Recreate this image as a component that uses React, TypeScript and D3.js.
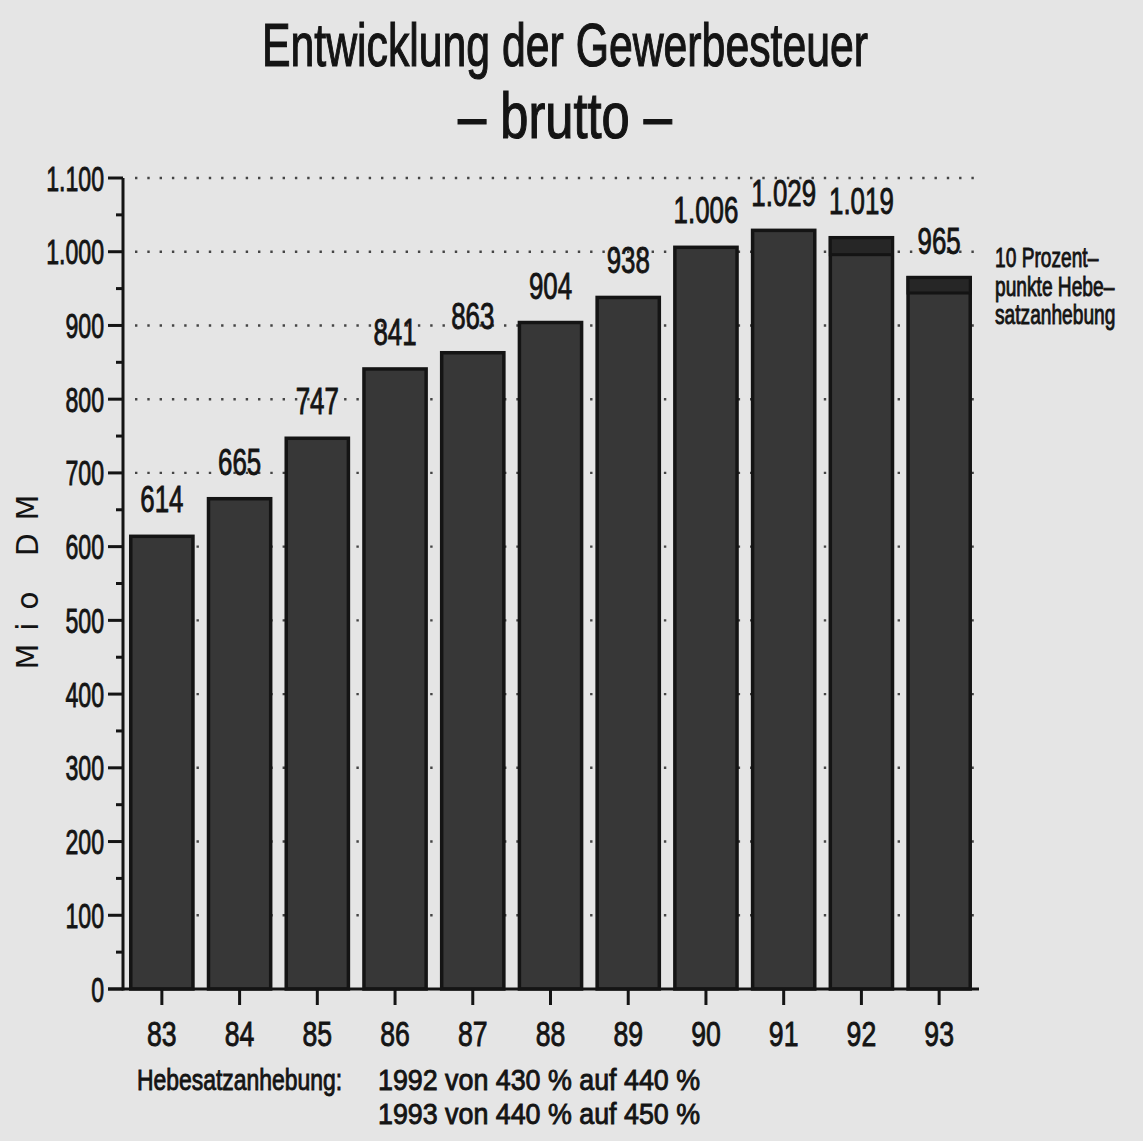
import React from "react";
import * as d3 from "d3";

const years = ["83", "84", "85", "86", "87", "88", "89", "90", "91", "92", "93"];
const totals = [614, 665, 747, 841, 863, 904, 938, 1006, 1029, 1019, 965];
// portion attributable to the 10-point Hebesatz increase (1992, 1993)
const increase = [0, 0, 0, 0, 0, 0, 0, 0, 0, 23, 21];
const yTicks = [0, 100, 200, 300, 400, 500, 600, 700, 800, 900, 1000, 1100];
const yMinor = [50, 150, 250, 350, 450, 550, 650, 750, 850, 950, 1050];
const titleLines = ["Entwicklung der Gewerbesteuer", "– brutto –"];
const noteLines = ["10 Prozent–", "punkte Hebe–", "satzanhebung"];
const footLabel = "Hebesatzanhebung:";
const footLines = ["1992 von 430 % auf 440 %", "1993 von 440 % auf 450 %"];
const yLabel = "Mio DM";

const W = 1143;
const H = 1141;
const FONT = "'Liberation Sans', Arial, sans-serif";
const INK = "#141414";

const de = d3.formatLocale({ decimal: ",", thousands: ".", grouping: [3], currency: ["", " DM"] });
const fmt = de.format(",d");

function CText(props: {
  x: number; y: number; text: string; size: number; sx?: number;
  anchor?: "start" | "middle" | "end"; len?: number; sw?: number;
}) {
  const { x, y, text, size, sx = 1, anchor = "middle", len, sw = 0.9 } = props;
  return (
    <text
      transform={`translate(${x},${y}) scale(${sx},1)`}
      textAnchor={anchor}
      fontFamily={FONT}
      fontSize={size}
      fill={INK}
      stroke={INK}
      strokeWidth={sw}
      textLength={len}
      lengthAdjust={len ? "spacingAndGlyphs" : undefined}
    >
      {text}
    </text>
  );
}

export default function App() {
  const x = d3.scaleBand<string>().domain(years).range([123, 978]).paddingInner(0.2).paddingOuter(0.1);
  const y = d3.scaleLinear().domain([0, 1100]).range([989, 178]);
  const x0 = 123;
  const y0 = y(0);

  return (
    <svg
      width={W}
      height={H}
      style={{ position: "absolute", left: 0, top: 0, display: "block" }}
    >
      <rect x={0} y={0} width={W} height={H} fill="#e5e5e5" />

      {/* title */}
      <CText x={565} y={66} text={titleLines[0]} size={61} len={606} sw={1.2} />
      <CText x={565} y={138} text={titleLines[1]} size={64} len={214} sw={1.2} />

      {/* dotted grid */}
      {yTicks.filter((t) => t > 0).map((t) => (
        <line
          key={"g" + t}
          x1={x0 + 12}
          x2={982}
          y1={y(t)}
          y2={y(t)}
          stroke="#444"
          strokeWidth={2.4}
          strokeDasharray="2.4 9.9"
        />
      ))}

      {/* bars */}
      {years.map((yr, i) => {
        const bx = x(yr)!;
        const bw = x.bandwidth();
        const top = y(totals[i]);
        return (
          <g key={yr}>
            <rect x={bx} y={top} width={bw} height={y0 - top} fill="#373737" stroke={INK} strokeWidth={3.5} />
            {increase[i] > 0 && (
              <rect
                x={bx}
                y={top}
                width={bw}
                height={y(totals[i] - increase[i]) - top}
                fill="#262626"
                stroke={INK}
                strokeWidth={3}
              />
            )}
            <CText x={bx + bw / 2} y={top - 24} text={fmt(totals[i])} size={37} sx={0.7} />
          </g>
        );
      })}

      {/* y axis */}
      <line x1={x0} x2={x0} y1={y(1100)} y2={y0 + 1.5} stroke={INK} strokeWidth={3} />
      {yTicks.map((t) => (
        <g key={"t" + t}>
          <line x1={x0 - 15} x2={x0} y1={y(t)} y2={y(t)} stroke={INK} strokeWidth={3} />
          <CText x={104} y={y(t) + 12.5} text={fmt(t)} size={35} sx={0.66} anchor="end" />
        </g>
      ))}
      {yMinor.map((t) => (
        <line key={"m" + t} x1={x0 - 7} x2={x0} y1={y(t)} y2={y(t)} stroke={INK} strokeWidth={3} />
      ))}

      {/* x axis */}
      <line x1={x0 - 15} x2={979} y1={y0} y2={y0} stroke={INK} strokeWidth={3} />
      {years.map((yr) => {
        const cx = x(yr)! + x.bandwidth() / 2;
        return (
          <g key={"x" + yr}>
            <line x1={cx} x2={cx} y1={y0} y2={y0 + 16} stroke={INK} strokeWidth={3} />
            <CText x={cx} y={1046} text={yr} size={36} sx={0.74} />
          </g>
        );
      })}

      {/* y label */}
      <text
        transform={`translate(38,582) rotate(-90)`}
        textAnchor="middle"
        fontFamily="'DejaVu Sans', sans-serif"
        fontSize={30}
        fill={INK}
        textLength={175}
        lengthAdjust="spacing"
      >
        {yLabel}
      </text>

      {/* right note */}
      {noteLines.map((l, i) => (
        <CText key={l} x={995} y={267 + i * 28.5} text={l} size={27} sx={0.71} anchor="start" />
      ))}

      {/* footnote */}
      <CText x={137} y={1090} text={footLabel} size={29} len={205} anchor="start" />
      {footLines.map((l, i) => (
        <CText key={l} x={378} y={1090 + i * 34} text={l} size={29} len={322} anchor="start" />
      ))}
    </svg>
  );
}
